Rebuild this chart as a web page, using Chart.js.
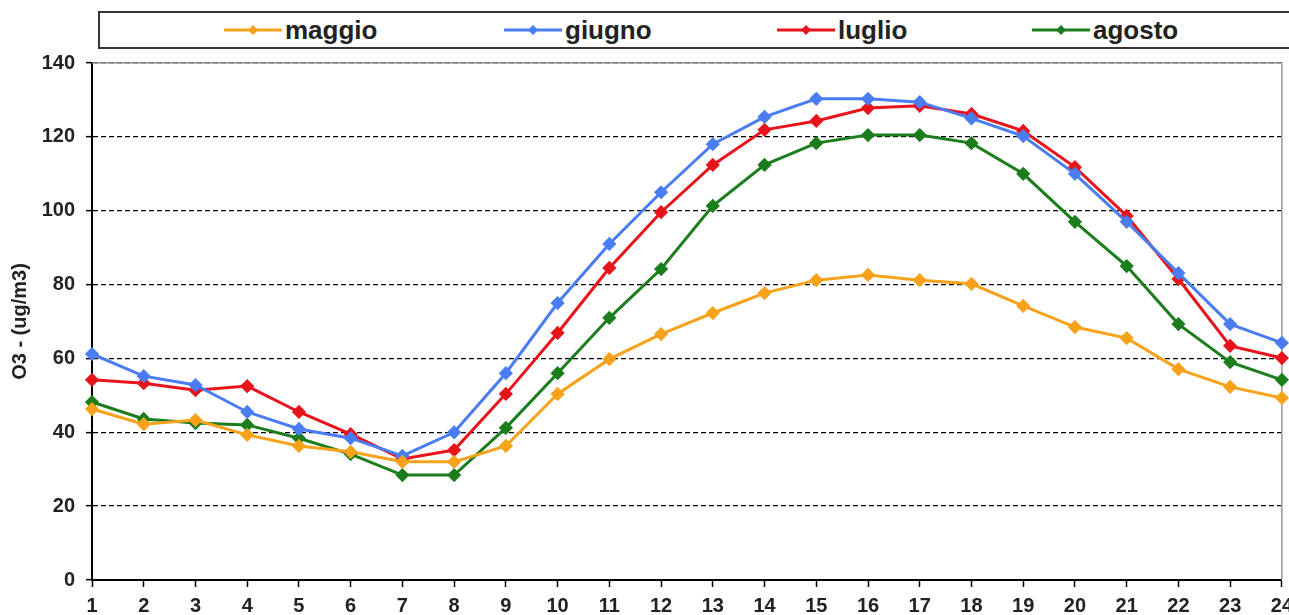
<!DOCTYPE html>
<html>
<head>
<meta charset="utf-8">
<script src="https://cdn.jsdelivr.net/npm/chart.js@4.4.1/dist/chart.umd.min.js"></script>
<style>
  body { margin: 0; background: #fff; font-family: "Liberation Sans", Arial, sans-serif; overflow: hidden; }
  #wrap { position: absolute; left: 0; top: 0; width: 1289px; height: 615px; overflow: hidden; }
  #legenda {
    position: absolute; left: 98px; top: 11px; width: 1210px; height: 34px;
    border: 2px solid #333; border-right: none; background: #fff;
  }
  .voce { position: absolute; top: 0; height: 34px; display: flex; align-items: center; }
  .voce canvas { margin-right: 3px; }
  .voce span { font-weight: bold; font-size: 26px; color: #222; line-height: 34px; }
</style>
</head>
<body>
<div id="wrap">
  <canvas id="graficoO3" width="1300" height="615"></canvas>
  <div id="legenda"></div>
</div>
<script>
// graficoO3.js - giorno tipo ozono per mese
const ore = ['1','2','3','4','5','6','7','8','9','10','11','12','13','14','15','16','17','18','19','20','21','22','23','24'];

const maggio = [46.3, 42.2, 43.3, 39.3, 36.3, 34.7, 32.0, 32.0, 36.3, 50.4, 59.8, 66.6, 72.3, 77.7, 81.2, 82.6, 81.2, 80.2, 74.2, 68.5, 65.5, 57.1, 52.3, 49.3];
const giugno = [61.2, 55.2, 52.8, 45.5, 40.9, 38.4, 33.6, 40.0, 56.0, 75.0, 91.0, 105.0, 118.0, 125.4, 130.3, 130.3, 129.4, 125.0, 120.2, 110.0, 97.0, 83.1, 69.3, 64.2];
const luglio = [54.2, 53.3, 51.4, 52.5, 45.5, 39.5, 32.8, 35.2, 50.4, 66.9, 84.5, 99.6, 112.4, 121.9, 124.3, 127.8, 128.4, 126.2, 121.6, 111.8, 98.6, 81.5, 63.4, 60.1];
const agosto = [48.2, 43.6, 42.5, 42.0, 38.4, 34.1, 28.4, 28.4, 41.2, 56.0, 71.0, 84.2, 101.3, 112.4, 118.3, 120.5, 120.5, 118.3, 110.0, 97.0, 85.0, 69.3, 59.0, 54.2];

const nomiMesi = ['maggio', 'giugno', 'luglio', 'agosto'];
const colori = ['#f7a21b', '#4a7cf2', '#e8141c', '#1b7d1b'];
const serie = [maggio, giugno, luglio, agosto];
const yTicks = [0, 20, 40, 60, 80, 100, 120, 140];

// legenda html (riquadro come nell'originale)
const posLegenda = [124, 404, 677, 932];
const legenda = document.getElementById('legenda');
nomiMesi.forEach((nome, i) => {
    const div = document.createElement('div');
    div.className = 'voce';
    div.style.left = posLegenda[i] + 'px';
    const c = document.createElement('canvas');
    c.width = 58; c.height = 14;
    const g = c.getContext('2d');
    g.strokeStyle = colori[i]; g.fillStyle = colori[i]; g.lineWidth = 3;
    g.beginPath(); g.moveTo(0, 7); g.lineTo(58, 7); g.stroke();
    g.beginPath(); g.moveTo(29, 2); g.lineTo(34, 7); g.lineTo(29, 12); g.lineTo(24, 7); g.closePath(); g.fill();
    div.appendChild(c);
    const s = document.createElement('span');
    s.textContent = nome;
    div.appendChild(s);
    legenda.appendChild(div);
});

const bordoGrigio = {
    id: 'bordoGrigio',
    beforeDatasetsDraw(chart) {
        const { ctx, chartArea: a } = chart;
        ctx.save();
        ctx.strokeStyle = '#9a9a9a';
        ctx.lineWidth = 1.5;
        ctx.beginPath();
        ctx.moveTo(a.left, a.top);
        ctx.lineTo(a.right, a.top);
        ctx.lineTo(a.right, a.bottom);
        ctx.stroke();
        ctx.restore();
    }
};

const chartData = {
    labels: ore,
    datasets: serie.map((d, i) => ({
        label: nomiMesi[i],
        data: d,
        borderColor: colori[i],
        backgroundColor: colori[i],
        borderWidth: 3,
        pointStyle: 'rectRot',
        pointRadius: 5,
        pointHoverRadius: 5,
        tension: 0
    }))
};

const fontTick = { family: '"Liberation Sans", Arial, sans-serif', size: 20, weight: 'bold' };

const config = {
    type: 'line',
    data: chartData,
    plugins: [bordoGrigio],
    options: {
        responsive: false,
        animation: false,
        events: [],
        layout: { padding: { top: 63, right: 0, left: 0, bottom: 0 } },
        plugins: {
            legend: { display: false },
            tooltip: { enabled: false }
        },
        scales: {
            x: {
                offset: false,
                grid: { drawOnChartArea: false, drawTicks: true, tickLength: 7, tickColor: '#000', tickWidth: 1.5 },
                border: { color: '#000', width: 2 },
                ticks: { color: '#222', font: fontTick, padding: 7, maxRotation: 0, autoSkip: false },
                afterFit: s => { s.height = 35; }
            },
            y: {
                min: 0,
                max: 140,
                afterBuildTicks: s => { s.ticks = yTicks.map(v => ({ value: v })); },
                grid: { color: '#000', lineWidth: 1.3, tickLength: 6, tickColor: '#000', tickWidth: 1.5 },
                border: { color: '#000', width: 2, dash: [5, 3] },
                ticks: { color: '#222', font: fontTick, padding: 11 },
                title: {
                    display: true,
                    text: 'O3 - (ug/m3)',
                    color: '#222',
                    font: { family: '"Liberation Sans", Arial, sans-serif', size: 20, weight: 'bold' },
                    padding: { top: 8, bottom: 0 }
                },
                afterFit: s => { s.width = 92; }
            }
        }
    }
};

new Chart(document.getElementById('graficoO3'), config);
</script>
</body>
</html>
